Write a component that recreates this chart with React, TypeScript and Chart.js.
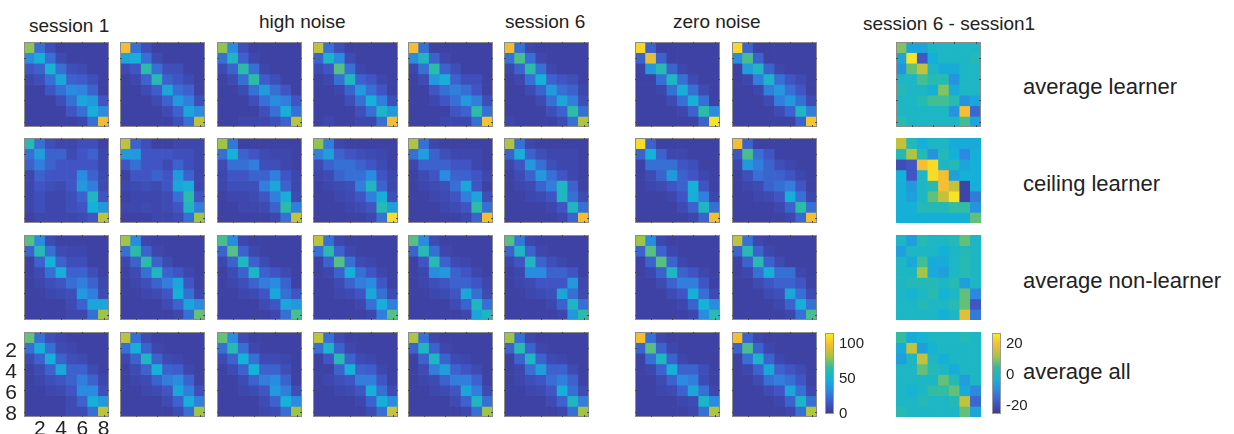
import React, { useEffect, useRef } from "react";
import { Chart, registerables } from "chart.js";

Chart.register(...registerables);

// ---------------- text / ticks ----------------
const columnTitles = ["session 1", "high noise", "session 6", "zero noise", "session 6 - session1"];
const rowLabels = ["average learner", "ceiling learner", "average non-learner", "average all"];
const cellIndex = ["1", "2", "3", "4", "5", "6", "7", "8"];
const axisTickLabels = [2, 4, 6, 8];
const seqRange = [0, 116];
const seqTicks = [0, 50, 100];
const diffRange = [-25, 27];
const diffTicks = [-20, 0, 20];

// ---------------- average learner ----------------
const learnerS1 = [
  80, 25, 12, 5, 5, 5, 5, 5,
  35, 48, 25, 10, 5, 5, 5, 5,
  15, 20, 52, 25, 12, 10, 5, 5,
  8, 12, 25, 45, 20, 18, 12, 5,
  5, 5, 15, 25, 35, 32, 20, 5,
  5, 5, 5, 12, 25, 45, 40, 15,
  5, 5, 5, 5, 15, 25, 48, 35,
  5, 5, 5, 5, 5, 8, 25, 98,
];
const learnerS2 = [
  100, 25, 12, 5, 5, 5, 5, 5,
  45, 48, 25, 10, 5, 5, 5, 5,
  10, 15, 65, 25, 12, 12, 5, 5,
  5, 8, 20, 62, 20, 15, 10, 5,
  5, 5, 10, 18, 45, 25, 20, 5,
  5, 5, 5, 10, 20, 40, 30, 12,
  5, 5, 5, 5, 10, 20, 45, 35,
  5, 5, 5, 5, 5, 12, 25, 88,
];
const learnerS3 = [
  80, 35, 12, 5, 5, 5, 5, 5,
  25, 57, 20, 8, 5, 5, 5, 5,
  10, 20, 65, 25, 8, 5, 5, 5,
  5, 10, 25, 65, 18, 12, 5, 5,
  5, 5, 10, 25, 40, 25, 15, 5,
  5, 5, 5, 12, 25, 35, 30, 15,
  5, 5, 5, 5, 12, 25, 48, 25,
  5, 5, 8, 8, 8, 12, 20, 88,
];
const learnerS4 = [
  88, 25, 12, 5, 5, 5, 5, 5,
  20, 55, 35, 10, 5, 5, 5, 5,
  10, 15, 72, 25, 8, 5, 5, 5,
  5, 8, 25, 57, 20, 15, 8, 5,
  5, 5, 8, 20, 40, 25, 15, 5,
  5, 5, 5, 12, 25, 50, 30, 12,
  5, 5, 5, 5, 12, 25, 55, 40,
  5, 8, 5, 5, 8, 8, 25, 100,
];
const learnerS5 = [
  100, 25, 5, 5, 5, 5, 5, 5,
  35, 57, 20, 8, 5, 5, 5, 5,
  8, 25, 65, 20, 12, 5, 5, 5,
  5, 10, 40, 48, 20, 12, 12, 5,
  5, 5, 15, 25, 30, 25, 15, 5,
  5, 5, 8, 15, 25, 40, 30, 12,
  5, 5, 5, 5, 15, 20, 65, 25,
  5, 5, 5, 8, 8, 8, 25, 102,
];
const learnerS6 = [
  98, 25, 8, 5, 5, 5, 5, 5,
  25, 70, 25, 8, 5, 5, 5, 5,
  8, 20, 65, 25, 8, 5, 5, 5,
  5, 8, 25, 50, 20, 15, 12, 5,
  5, 5, 10, 20, 40, 25, 20, 8,
  5, 5, 5, 10, 25, 45, 30, 12,
  5, 5, 5, 5, 12, 20, 66, 25,
  8, 5, 5, 5, 5, 10, 25, 85,
];
const learnerZ1 = [
  108, 20, 5, 5, 5, 5, 5, 5,
  20, 96, 20, 5, 5, 5, 5, 5,
  5, 40, 62, 20, 8, 5, 5, 5,
  5, 5, 25, 57, 25, 10, 5, 5,
  5, 5, 8, 25, 48, 25, 10, 5,
  5, 5, 5, 10, 25, 48, 25, 5,
  5, 5, 5, 5, 8, 20, 65, 35,
  5, 5, 5, 5, 5, 5, 20, 112,
];
const learnerZ2 = [
  108, 20, 5, 5, 5, 5, 5, 5,
  35, 70, 20, 5, 5, 5, 5, 5,
  5, 42, 57, 20, 8, 5, 5, 5,
  5, 8, 30, 55, 25, 15, 10, 5,
  5, 5, 8, 30, 40, 25, 15, 5,
  5, 5, 5, 10, 30, 40, 25, 10,
  5, 5, 5, 5, 10, 20, 57, 30,
  5, 5, 5, 5, 5, 5, 20, 102,
];
const learnerDiff = [
  10, -5, -5, 0, 0, 0, 0, 0,
  -5, 25, -18, -3, 0, 0, 0, 2,
  -8, 8, 15, 0, -4, -4, 0, 0,
  0, 0, 6, 3, 3, -8, 0, 0,
  2, 0, 0, -3, 10, -4, 0, 0,
  0, 0, 3, 6, 6, 3, -8, -5,
  0, 0, 0, 0, 0, -8, 20, -15,
  4, 0, 0, 0, 0, 0, 6, -5,
];

// ---------------- ceiling learner ----------------
const ceilingS1 = [
  62, 25, 12, 8, 8, 12, 12, 5,
  25, 42, 20, 20, 10, 15, 20, 8,
  20, 30, 20, 15, 15, 15, 15, 8,
  8, 20, 15, 15, 15, 35, 20, 10,
  8, 15, 12, 10, 15, 40, 30, 10,
  8, 12, 8, 8, 12, 20, 57, 15,
  8, 12, 8, 8, 12, 15, 50, 40,
  5, 8, 8, 8, 8, 10, 15, 88,
];
const ceilingS2 = [
  88, 20, 12, 5, 5, 8, 8, 8,
  40, 40, 15, 15, 15, 12, 12, 8,
  15, 25, 15, 15, 10, 20, 12, 8,
  5, 15, 15, 20, 15, 40, 20, 8,
  8, 10, 12, 10, 15, 45, 48, 8,
  5, 8, 8, 8, 10, 25, 65, 15,
  8, 8, 10, 8, 10, 15, 57, 30,
  5, 5, 5, 8, 8, 10, 25, 82,
];
const ceilingS3 = [
  82, 28, 5, 5, 5, 5, 5, 5,
  25, 50, 20, 15, 10, 8, 8, 5,
  10, 25, 25, 30, 12, 12, 8, 5,
  8, 15, 15, 20, 20, 30, 15, 8,
  8, 12, 12, 12, 30, 45, 20, 8,
  5, 8, 8, 10, 15, 30, 48, 10,
  5, 5, 8, 8, 10, 20, 65, 30,
  5, 5, 5, 5, 5, 8, 25, 90,
];
const ceilingS4 = [
  80, 30, 8, 5, 5, 5, 5, 5,
  30, 42, 20, 15, 12, 10, 8, 5,
  10, 20, 25, 25, 20, 15, 10, 5,
  8, 10, 20, 25, 25, 35, 15, 8,
  5, 8, 10, 12, 30, 57, 20, 8,
  5, 5, 8, 10, 15, 30, 48, 12,
  5, 5, 5, 8, 10, 15, 62, 42,
  5, 5, 5, 5, 5, 8, 25, 110,
];
const ceilingS5 = [
  85, 25, 8, 5, 5, 5, 5, 5,
  25, 42, 20, 12, 8, 8, 8, 5,
  8, 20, 20, 20, 15, 15, 8, 5,
  5, 10, 15, 35, 20, 20, 15, 8,
  5, 8, 10, 12, 25, 45, 15, 5,
  5, 5, 8, 10, 15, 30, 45, 12,
  5, 5, 5, 8, 10, 15, 66, 25,
  5, 5, 5, 5, 5, 8, 20, 100,
];
const ceilingS6 = [
  85, 25, 8, 5, 5, 5, 5, 5,
  20, 48, 20, 12, 8, 8, 8, 5,
  8, 15, 40, 25, 12, 8, 8, 5,
  5, 10, 20, 40, 25, 15, 8, 5,
  5, 8, 10, 20, 30, 57, 20, 5,
  5, 5, 8, 10, 15, 57, 25, 10,
  5, 5, 5, 5, 8, 15, 57, 25,
  5, 5, 5, 5, 5, 8, 20, 100,
];
const ceilingZ1 = [
  110, 20, 5, 5, 5, 5, 5, 5,
  20, 50, 20, 8, 8, 5, 5, 5,
  5, 25, 25, 25, 15, 12, 5, 5,
  5, 10, 20, 40, 20, 15, 8, 5,
  5, 8, 10, 15, 20, 50, 15, 5,
  5, 5, 5, 8, 15, 48, 30, 8,
  5, 5, 5, 5, 10, 20, 57, 25,
  5, 5, 5, 5, 5, 8, 20, 100,
];
const ceilingZ2 = [
  100, 20, 5, 5, 5, 5, 5, 5,
  15, 70, 25, 15, 5, 5, 5, 5,
  8, 40, 30, 20, 12, 8, 5, 5,
  5, 12, 25, 20, 20, 15, 8, 5,
  5, 8, 10, 20, 25, 30, 15, 5,
  5, 5, 8, 10, 15, 48, 25, 8,
  5, 5, 5, 5, 8, 20, 66, 25,
  5, 5, 5, 5, 5, 8, 22, 100,
];
const ceilingDiff = [
  15, 2, -3, 0, 0, -4, -4, -4,
  2, 13, 2, -8, 2, -3, -10, -3,
  -20, -18, 20, 24, 0, 2, -5, -3,
  -3, -18, 0, 24, 20, -6, -3, -3,
  -3, -7, 0, 3, 20, 15, -22, -3,
  -3, -6, 0, 8, 15, 25, -22, -12,
  -3, -3, 2, 2, 2, 5, 5, -8,
  -3, -3, -3, -3, -3, -3, -3, 8,
];

// ---------------- average non-learner ----------------
const nonLearnerS1 = [
  72, 35, 10, 5, 5, 5, 5, 5,
  20, 62, 25, 10, 8, 8, 5, 5,
  5, 20, 50, 20, 12, 12, 5, 5,
  5, 10, 25, 48, 20, 20, 12, 5,
  5, 8, 12, 15, 25, 30, 20, 8,
  5, 5, 8, 10, 12, 40, 30, 10,
  5, 5, 5, 5, 10, 20, 45, 45,
  5, 5, 5, 5, 8, 8, 25, 82,
];
const nonLearnerS2 = [
  82, 35, 8, 5, 5, 5, 5, 5,
  25, 65, 20, 8, 5, 5, 5, 5,
  8, 20, 65, 20, 10, 5, 5, 5,
  5, 10, 25, 57, 20, 15, 8, 5,
  5, 8, 12, 20, 30, 45, 15, 5,
  5, 5, 8, 10, 15, 48, 25, 8,
  5, 5, 5, 5, 10, 20, 45, 35,
  5, 5, 5, 5, 5, 8, 25, 74,
];
const nonLearnerS3 = [
  70, 35, 8, 5, 5, 5, 5, 5,
  20, 72, 20, 8, 5, 5, 5, 5,
  8, 20, 57, 20, 10, 5, 5, 5,
  5, 10, 20, 55, 20, 15, 10, 5,
  5, 8, 12, 20, 30, 35, 20, 5,
  5, 5, 8, 10, 15, 45, 25, 15,
  5, 5, 5, 5, 10, 15, 45, 40,
  5, 5, 5, 5, 5, 8, 25, 70,
];
const nonLearnerS4 = [
  88, 25, 8, 5, 5, 5, 5, 5,
  25, 62, 20, 8, 5, 5, 5, 5,
  5, 20, 72, 25, 10, 8, 5, 5,
  5, 8, 20, 48, 25, 15, 8, 5,
  5, 5, 10, 20, 30, 35, 15, 5,
  5, 5, 8, 10, 15, 45, 25, 10,
  5, 5, 5, 5, 8, 25, 48, 30,
  5, 5, 5, 5, 5, 8, 30, 72,
];
const nonLearnerS5 = [
  72, 35, 10, 5, 5, 5, 5, 5,
  20, 62, 25, 8, 5, 5, 5, 5,
  5, 15, 62, 20, 10, 8, 5, 5,
  5, 8, 35, 40, 20, 15, 8, 5,
  5, 8, 12, 15, 20, 20, 15, 8,
  5, 5, 8, 10, 15, 45, 25, 10,
  5, 5, 5, 5, 10, 20, 57, 25,
  5, 5, 5, 5, 5, 8, 45, 57,
];
const nonLearnerS6 = [
  72, 28, 8, 5, 5, 5, 5, 5,
  20, 57, 20, 8, 5, 5, 5, 5,
  8, 15, 57, 20, 12, 8, 5, 5,
  5, 8, 35, 35, 20, 20, 15, 5,
  5, 8, 10, 15, 15, 15, 40, 8,
  5, 5, 8, 10, 12, 45, 25, 10,
  5, 5, 5, 5, 8, 20, 57, 25,
  5, 5, 5, 5, 5, 8, 40, 65,
];
const nonLearnerZ1 = [
  82, 35, 8, 5, 5, 5, 5, 5,
  20, 72, 20, 8, 5, 5, 5, 5,
  5, 20, 72, 20, 8, 5, 5, 5,
  5, 8, 20, 57, 20, 15, 8, 5,
  5, 5, 10, 20, 30, 30, 15, 5,
  5, 5, 5, 10, 15, 48, 25, 10,
  5, 5, 5, 5, 8, 20, 50, 35,
  5, 5, 5, 5, 5, 8, 35, 62,
];
const nonLearnerZ2 = [
  88, 25, 8, 5, 5, 5, 5, 5,
  20, 62, 20, 8, 5, 5, 5, 5,
  5, 20, 62, 20, 10, 5, 5, 5,
  5, 8, 25, 48, 25, 25, 8, 5,
  5, 5, 10, 15, 20, 20, 15, 5,
  5, 5, 5, 10, 12, 45, 25, 10,
  5, 5, 5, 5, 8, 20, 48, 25,
  5, 5, 5, 5, 5, 8, 25, 70,
];
const nonLearnerDiff = [
  0, -6, 3, 0, 0, 2, 8, 0,
  -6, 0, 0, 0, -3, 0, 2, 0,
  0, -4, 6, -4, -4, 0, 3, 0,
  0, 0, 12, -4, -6, 0, 3, 0,
  0, 2, 2, 2, 0, 3, -6, 0,
  0, -2, 0, 3, -2, 0, 8, -10,
  0, 0, 2, 0, 0, 3, 8, -18,
  0, 0, 0, 0, -3, 0, 18, -12,
];

// ---------------- average all ----------------
const allS1 = [
  74, 25, 12, 8, 5, 5, 5, 5,
  25, 48, 25, 10, 8, 5, 5, 5,
  10, 20, 48, 20, 12, 10, 5, 5,
  5, 10, 20, 45, 20, 20, 10, 5,
  5, 8, 12, 15, 20, 30, 20, 8,
  5, 5, 8, 10, 15, 35, 35, 12,
  5, 5, 5, 5, 10, 20, 48, 40,
  5, 5, 5, 5, 10, 10, 25, 88,
];
const allS2 = [
  88, 25, 10, 5, 5, 5, 5, 5,
  25, 48, 20, 8, 5, 5, 5, 5,
  8, 20, 57, 20, 10, 8, 5, 5,
  5, 10, 20, 50, 20, 18, 8, 5,
  5, 8, 10, 20, 30, 35, 20, 5,
  5, 5, 8, 10, 15, 45, 30, 12,
  5, 5, 5, 5, 10, 20, 48, 30,
  5, 5, 5, 5, 5, 10, 25, 82,
];
const allS3 = [
  74, 35, 10, 5, 5, 5, 5, 5,
  25, 62, 25, 8, 5, 5, 5, 5,
  10, 20, 50, 25, 10, 10, 8, 5,
  5, 10, 20, 50, 20, 20, 12, 5,
  5, 5, 10, 20, 30, 35, 20, 5,
  5, 5, 8, 10, 15, 40, 30, 12,
  5, 5, 5, 5, 10, 20, 50, 35,
  5, 5, 5, 5, 8, 10, 25, 82,
];
const allS4 = [
  88, 25, 10, 5, 5, 5, 5, 5,
  25, 55, 20, 8, 5, 5, 5, 5,
  5, 15, 62, 20, 10, 8, 5, 5,
  5, 5, 20, 48, 20, 18, 8, 5,
  5, 8, 12, 15, 30, 30, 15, 5,
  5, 5, 8, 10, 15, 48, 25, 10,
  5, 5, 5, 5, 8, 20, 48, 35,
  5, 5, 5, 5, 5, 10, 25, 90,
];
const allS5 = [
  85, 25, 8, 5, 5, 5, 5, 5,
  20, 57, 20, 8, 5, 5, 5, 5,
  5, 20, 57, 20, 10, 8, 5, 5,
  5, 10, 30, 42, 20, 15, 10, 5,
  5, 8, 10, 20, 30, 30, 20, 5,
  5, 5, 8, 10, 15, 45, 30, 10,
  5, 5, 5, 5, 10, 20, 57, 25,
  5, 5, 5, 5, 5, 8, 25, 82,
];
const allS6 = [
  82, 25, 8, 5, 5, 5, 5, 5,
  20, 62, 20, 8, 5, 5, 5, 5,
  5, 20, 57, 20, 10, 8, 5, 5,
  5, 8, 25, 42, 20, 20, 10, 5,
  5, 8, 12, 15, 25, 30, 20, 5,
  5, 5, 8, 10, 15, 48, 25, 10,
  5, 5, 5, 5, 10, 20, 57, 30,
  5, 5, 5, 5, 5, 8, 25, 82,
];
const allZ1 = [
  100, 25, 8, 5, 5, 5, 5, 5,
  20, 72, 20, 8, 5, 5, 5, 5,
  5, 25, 57, 20, 8, 5, 5, 5,
  5, 8, 20, 48, 20, 20, 12, 5,
  5, 5, 10, 20, 35, 30, 10, 5,
  5, 5, 8, 10, 20, 45, 25, 8,
  5, 5, 5, 5, 8, 10, 55, 35,
  5, 5, 5, 5, 5, 8, 25, 85,
];
const allZ2 = [
  100, 20, 8, 5, 5, 5, 5, 5,
  20, 70, 20, 8, 5, 5, 5, 5,
  5, 25, 55, 20, 8, 5, 5, 5,
  5, 8, 20, 45, 20, 15, 10, 5,
  5, 5, 10, 25, 30, 25, 15, 5,
  5, 5, 5, 10, 15, 45, 25, 8,
  5, 5, 5, 5, 8, 20, 55, 25,
  5, 5, 5, 5, 5, 8, 25, 85,
];
const allDiff = [
  5, -4, -2, 0, 0, 0, 2, 0,
  -4, 15, -6, -2, 0, 0, 0, 0,
  -6, 0, 15, 0, -3, 0, 0, 0,
  0, 0, 8, 2, 0, -4, 0, 0,
  0, 0, 0, 0, 8, 2, -6, 0,
  0, -2, 0, 5, 5, 8, -4, -10,
  0, 0, 2, 0, 0, 2, 15, -15,
  3, 0, 0, 0, 0, 0, 8, -5,
];

const panelRows = [
  [learnerS1, learnerS2, learnerS3, learnerS4, learnerS5, learnerS6, learnerZ1, learnerZ2, learnerDiff],
  [ceilingS1, ceilingS2, ceilingS3, ceilingS4, ceilingS5, ceilingS6, ceilingZ1, ceilingZ2, ceilingDiff],
  [nonLearnerS1, nonLearnerS2, nonLearnerS3, nonLearnerS4, nonLearnerS5, nonLearnerS6, nonLearnerZ1, nonLearnerZ2, nonLearnerDiff],
  [allS1, allS2, allS3, allS4, allS5, allS6, allZ1, allZ2, allDiff],
];

// ---------------- layout / style ----------------
const FONT = "'Liberation Sans', Arial, Helvetica, sans-serif";
const TEXT_COLOR = "#222222";
const COL_X = [24, 120, 217, 313, 408, 504, 635, 732, 896];
const ROW_Y = [42, 138, 235, 332];
const SIZE = 85;
const AXIS_W = 24;
const AXIS_H = 26;
const TITLE_POS = [
  { x: 29, y: 26 },
  { x: 259, y: 22 },
  { x: 505, y: 22 },
  { x: 673, y: 22 },
  { x: 863, y: 24 },
];
const LABEL_X = 1023;
const LABEL_Y = [87, 184, 281, 372];

const PALETTE: number[][] = [
  [60, 56, 148],
  [64, 88, 200],
  [45, 135, 225],
  [20, 178, 215],
  [45, 188, 165],
  [165, 198, 65],
  [245, 188, 50],
  [248, 240, 30],
];

function colorAt(t: number): string {
  const c = Math.max(0, Math.min(1, t)) * (PALETTE.length - 1);
  const i = Math.min(PALETTE.length - 2, Math.floor(c));
  const f = c - i;
  const a = PALETTE[i];
  const b = PALETTE[i + 1];
  const m = (k: number) => Math.round(a[k] + (b[k] - a[k]) * f);
  return `rgb(${m(0)},${m(1)},${m(2)})`;
}

// frame + small inward tick marks (MATLAB style) at the even cell centres
const framePlugin = {
  id: "frame",
  afterDraw(chart: any, _args: any, opts: any) {
    if (!opts || !opts.color) return;
    const { ctx, chartArea: a, scales } = chart;
    ctx.save();
    ctx.strokeStyle = opts.color;
    ctx.lineWidth = 1;
    ctx.strokeRect(a.left + 0.5, a.top + 0.5, a.right - a.left - 1, a.bottom - a.top - 1);
    if (opts.ticks && scales.x && scales.y && scales.x.getPixelForValue) {
      ctx.strokeStyle = opts.tickColor;
      ctx.beginPath();
      axisTickLabels.forEach((t) => {
        const x = Math.round(scales.x.getPixelForValue(t - 1)) + 0.5;
        const y = Math.round(scales.y.getPixelForValue(t - 0.5)) + 0.5;
        ctx.moveTo(x, a.top);
        ctx.lineTo(x, a.top + 2);
        ctx.moveTo(x, a.bottom);
        ctx.lineTo(x, a.bottom - 2);
        ctx.moveTo(a.left, y);
        ctx.lineTo(a.left + 2, y);
        ctx.moveTo(a.right, y);
        ctx.lineTo(a.right - 2, y);
      });
      ctx.stroke();
    }
    ctx.restore();
  },
};

function zeroPadding(s: any) {
  s.paddingTop = 0;
  s.paddingBottom = 0;
  s.paddingLeft = 0;
  s.paddingRight = 0;
}

function Heatmap(props: {
  values: number[];
  range: number[];
  left: number;
  top: number;
  frame: string | null;
  axes: boolean;
}) {
  const { values, range, left, top, frame, axes } = props;
  const ref = useRef<HTMLCanvasElement>(null);
  const w = axes ? SIZE + AXIS_W : SIZE;
  const h = axes ? SIZE + AXIS_H : SIZE;
  useEffect(() => {
    const canvas = ref.current;
    if (!canvas) return;
    const n = cellIndex.length;
    const datasets = cellIndex.map((_, r) => ({
      data: cellIndex.map(() => 1),
      backgroundColor: values
        .slice(r * n, r * n + n)
        .map((v) => colorAt((v - range[0]) / (range[1] - range[0]))),
      borderWidth: 0,
      barPercentage: 1,
      categoryPercentage: 1,
    }));
    const tickFont = { family: FONT, size: 21 };
    const chart = new Chart(canvas, {
      type: "bar",
      data: { labels: cellIndex, datasets },
      options: {
        animation: false,
        responsive: false,
        devicePixelRatio: 1,
        events: [],
        layout: { padding: 0 },
        plugins: {
          legend: { display: false },
          tooltip: { enabled: false },
          frame: { color: frame, ticks: !!frame, tickColor: "#4a4a4a" },
        } as any,
        scales: {
          x: {
            stacked: true,
            display: axes,
            grid: { display: false, drawTicks: false },
            border: { display: false },
            ticks: {
              autoSkip: false,
              maxRotation: 0,
              padding: 0,
              color: TEXT_COLOR,
              font: tickFont,
              callback: (_v: any, i: number) =>
                axisTickLabels.includes(i + 1) ? String(i + 1) : "",
            },
            afterFit: (s: any) => {
              if (!axes) return;
              s.height = AXIS_H;
              zeroPadding(s);
            },
          },
          y: {
            stacked: true,
            reverse: true,
            min: 0,
            max: n,
            display: axes,
            grid: { display: false, drawTicks: false },
            border: { display: false },
            afterBuildTicks: (s: any) => {
              s.ticks = axisTickLabels.map((t) => ({ value: t - 0.5 }));
            },
            ticks: {
              autoSkip: false,
              padding: 7,
              labelOffset: 3,
              color: TEXT_COLOR,
              font: tickFont,
              callback: (v: any) => String(Number(v) + 0.5),
            },
            afterFit: (s: any) => {
              if (!axes) return;
              s.width = AXIS_W;
              zeroPadding(s);
            },
          },
        },
      } as any,
      plugins: [framePlugin],
    });
    return () => chart.destroy();
  }, []);
  return (
    <canvas
      ref={ref}
      width={w}
      height={h}
      style={{ position: "absolute", left: axes ? left - AXIS_W : left, top, width: w, height: h }}
    />
  );
}

function ColorBar(props: { range: number[]; ticks: number[]; left: number; top: number; height: number }) {
  const { range, ticks, left, top, height } = props;
  const ref = useRef<HTMLCanvasElement>(null);
  const PAD = 10;
  const BAR_W = 9;
  const W = 50;
  useEffect(() => {
    const canvas = ref.current;
    if (!canvas) return;
    const gradientPlugin = {
      id: "cbGradient",
      beforeDatasetsDraw(chart: any) {
        const { ctx, chartArea: a, scales } = chart;
        const y0 = scales.y.getPixelForValue(range[0]);
        const y1 = scales.y.getPixelForValue(range[1]);
        const g = ctx.createLinearGradient(0, y0, 0, y1);
        for (let i = 0; i <= 40; i++) g.addColorStop(i / 40, colorAt(i / 40));
        ctx.save();
        ctx.fillStyle = g;
        ctx.fillRect(a.left, a.top, a.right - a.left, a.bottom - a.top);
        ctx.restore();
      },
    };
    const chart = new Chart(canvas, {
      type: "bar",
      data: { labels: [""], datasets: [{ data: [] }] },
      options: {
        animation: false,
        responsive: false,
        devicePixelRatio: 1,
        events: [],
        layout: { padding: { top: PAD, bottom: PAD, left: 0, right: 0 } },
        plugins: {
          legend: { display: false },
          tooltip: { enabled: false },
          frame: { color: "#9a9a9a", ticks: false },
        } as any,
        scales: {
          x: { display: false },
          y: {
            position: "right",
            min: range[0],
            max: range[1],
            grid: { display: false, drawTicks: false },
            border: { display: false },
            afterBuildTicks: (s: any) => {
              s.ticks = ticks.map((t) => ({ value: t }));
            },
            ticks: { autoSkip: false, padding: 5, color: TEXT_COLOR, font: { family: FONT, size: 15 } },
            afterFit: (s: any) => {
              s.width = W - BAR_W;
              zeroPadding(s);
            },
          },
        },
      } as any,
      plugins: [gradientPlugin, framePlugin],
    });
    return () => chart.destroy();
  }, []);
  return (
    <canvas
      ref={ref}
      width={W}
      height={height + 2 * PAD}
      style={{ position: "absolute", left, top: top - PAD, width: W, height: height + 2 * PAD }}
    />
  );
}

export default function App() {
  return (
    <div
      style={{
        position: "absolute",
        left: 0,
        top: 0,
        width: 1234,
        height: 434,
        overflow: "hidden",
        background: "#ffffff",
        fontFamily: FONT,
        color: TEXT_COLOR,
      }}
    >
      {columnTitles.map((t, i) => (
        <div
          key={"t" + i}
          style={{
            position: "absolute",
            left: TITLE_POS[i].x,
            top: TITLE_POS[i].y - 11,
            fontSize: 19,
            lineHeight: "22px",
            whiteSpace: "nowrap",
          }}
        >
          {t}
        </div>
      ))}
      {rowLabels.map((t, i) => (
        <div
          key={"r" + i}
          style={{
            position: "absolute",
            left: LABEL_X,
            top: LABEL_Y[i] - 13,
            fontSize: 22,
            lineHeight: "26px",
            whiteSpace: "nowrap",
          }}
        >
          {t}
        </div>
      ))}
      {panelRows.map((row, r) =>
        row.map((values, c) => {
          const isDiff = c === row.length - 1;
          return (
            <Heatmap
              key={`h${r}-${c}`}
              values={values}
              range={isDiff ? diffRange : seqRange}
              left={COL_X[c]}
              top={ROW_Y[r]}
              frame={isDiff && r > 0 ? null : "#8c8c8c"}
              axes={r === panelRows.length - 1 && c === 0}
            />
          );
        })
      )}
      <ColorBar range={seqRange} ticks={seqTicks} left={825} top={333} height={81} />
      <ColorBar range={diffRange} ticks={diffTicks} left={992} top={333} height={81} />
    </div>
  );
}
